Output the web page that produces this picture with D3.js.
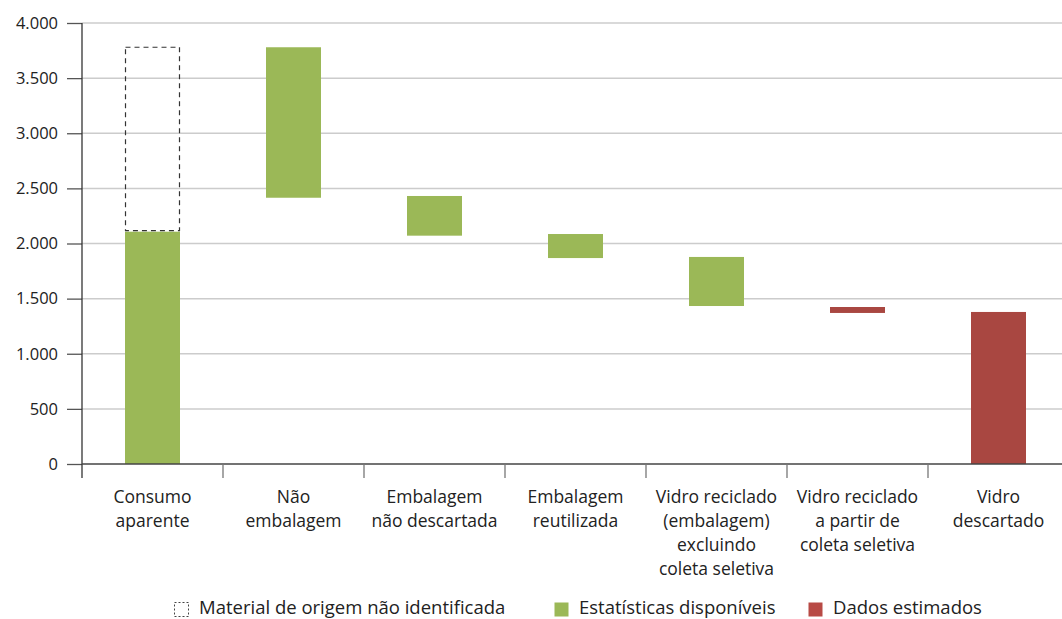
<!DOCTYPE html>
<html>
<head>
<meta charset="utf-8">
<script src="https://cdn.jsdelivr.net/npm/d3@7"></script>
<style>
  body { margin: 0; background: #fff; }
  text { font-family: "Open Sans", "Noto Sans", sans-serif; fill: #222; }
</style>
</head>
<body>
<svg id="chart" width="1062" height="619"></svg>
<script>
// categories (label lines) and waterfall segments [start, end]
var categories = [
  ["Consumo", "aparente"],
  ["Não", "embalagem"],
  ["Embalagem", "não descartada"],
  ["Embalagem", "reutilizada"],
  ["Vidro reciclado", "(embalagem)", "excluindo", "coleta seletiva"],
  ["Vidro reciclado", "a partir de", "coleta seletiva"],
  ["Vidro", "descartado"]
];
var barStart = [0, 2415, 2071, 1868, 1433, 1370, 0];
var barEnd   = [2107, 3780, 2431, 2086, 1878, 1424, 1379];
var barType  = ["stat", "stat", "stat", "stat", "stat", "est", "est"];
// unidentified origin material (dashed box on first bar)
var unidentified = [{cat: 0, start: 2107, end: 3780}];
var yTicks = [0, 500, 1000, 1500, 2000, 2500, 3000, 3500, 4000];
var legendLabels = ["Material de origem não identificada", "Estatísticas disponíveis", "Dados estimados"];

var colors = {stat: "#9bb857", est: "#a94741"};

var svg = d3.select("#chart"),
    margin = {top: 23, left: 82, bottom: 155},
    step = 141,
    height = 619 - margin.top - margin.bottom;

var ids = d3.range(categories.length);

var x = d3.scaleBand()
    .domain(ids)
    .range([margin.left, margin.left + step * ids.length])
    .paddingInner(0.61)
    .paddingOuter(0.305);

var xTick = d3.scaleBand()
    .domain(ids)
    .range([margin.left, margin.left + step * ids.length]);

var y = d3.scaleLinear()
    .domain([0, 4000])
    .range([margin.top + height, margin.top]);

var fmt = function(d) { return d3.format(",")(d).replace(/,/g, "."); };

// gridlines
svg.append("g")
  .selectAll("line")
  .data(yTicks.filter(function(d) { return d > 0; }))
  .enter().append("line")
    .attr("x1", margin.left)
    .attr("x2", 1062)
    .attr("y1", function(d) { return y(d); })
    .attr("y2", function(d) { return y(d); })
    .attr("stroke", "#cccccc")
    .attr("stroke-width", 1.5);

// y axis
var yAxis = svg.append("g")
    .attr("transform", "translate(" + margin.left + ",0)")
    .call(d3.axisLeft(y).tickValues(yTicks).tickFormat(fmt).tickSize(15).tickPadding(9));
yAxis.select(".domain").remove();
yAxis.selectAll(".tick line").attr("stroke", "#555").attr("stroke-width", 1.3);
yAxis.selectAll(".tick text")
    .attr("font-size", 16.5)
    .attr("font-family", "Open Sans, sans-serif")
    .attr("fill", "#1a1a1a");

svg.append("line")
    .attr("x1", margin.left).attr("x2", margin.left)
    .attr("y1", margin.top).attr("y2", y(0) + 14)
    .attr("stroke", "#333").attr("stroke-width", 1.3);

// bars
svg.append("g")
  .selectAll("rect")
  .data(ids)
  .enter().append("rect")
    .attr("x", function(i) { return x(i); })
    .attr("width", x.bandwidth())
    .attr("y", function(i) { return y(barEnd[i]); })
    .attr("height", function(i) { return y(barStart[i]) - y(barEnd[i]); })
    .attr("fill", function(i) { return colors[barType[i]]; });

// dashed box
svg.append("g")
  .selectAll("rect")
  .data(unidentified)
  .enter().append("rect")
    .attr("x", function(d) { return x(d.cat) + 0.5; })
    .attr("width", x.bandwidth() - 1)
    .attr("y", function(d) { return y(d.end); })
    .attr("height", function(d) { return y(d.start) - y(d.end) - 1; })
    .attr("fill", "none")
    .attr("stroke", "#333")
    .attr("stroke-width", 1.2)
    .attr("stroke-dasharray", "5,4");

// x axis
svg.append("line")
    .attr("x1", margin.left).attr("x2", 1062)
    .attr("y1", y(0)).attr("y2", y(0))
    .attr("stroke", "#444").attr("stroke-width", 1.5);

svg.append("g")
  .selectAll("line")
  .data(ids.slice(1))
  .enter().append("line")
    .attr("x1", function(i) { return xTick(i); })
    .attr("x2", function(i) { return xTick(i); })
    .attr("y1", y(0))
    .attr("y2", y(0) + 14)
    .attr("stroke", "#777")
    .attr("stroke-width", 1.3);

var labels = svg.append("g")
  .selectAll("text")
  .data(ids)
  .enter().append("text")
    .attr("text-anchor", "middle")
    .attr("font-size", 17.5)
    .attr("y", 503);

labels.selectAll("tspan")
  .data(function(i) { return categories[i].map(function(t) { return {i: i, t: t}; }); })
  .enter().append("tspan")
    .attr("x", function(d) { return xTick(d.i) + xTick.bandwidth() / 2; })
    .attr("dy", function(d, k) { return k === 0 ? 0 : 24; })
    .text(function(d) { return d.t; });

// legend
var legendX = [174, 554, 808];
var lg = svg.append("g");
legendLabels.forEach(function(t, k) {
  var sw = lg.append("rect")
      .attr("x", legendX[k] + 0.5)
      .attr("y", 602.5)
      .attr("width", 14)
      .attr("height", 14);
  if (k === 0) {
    sw.attr("fill", "none").attr("stroke", "#444").attr("stroke-width", 1).attr("stroke-dasharray", "2,2");
  } else {
    sw.attr("fill", k === 1 ? colors.stat : "#b84a45");
  }
  lg.append("text")
    .attr("x", legendX[k] + 25)
    .attr("y", 614)
    .attr("font-size", 18.5)
    .text(t);
});
</script>
</body>
</html>
